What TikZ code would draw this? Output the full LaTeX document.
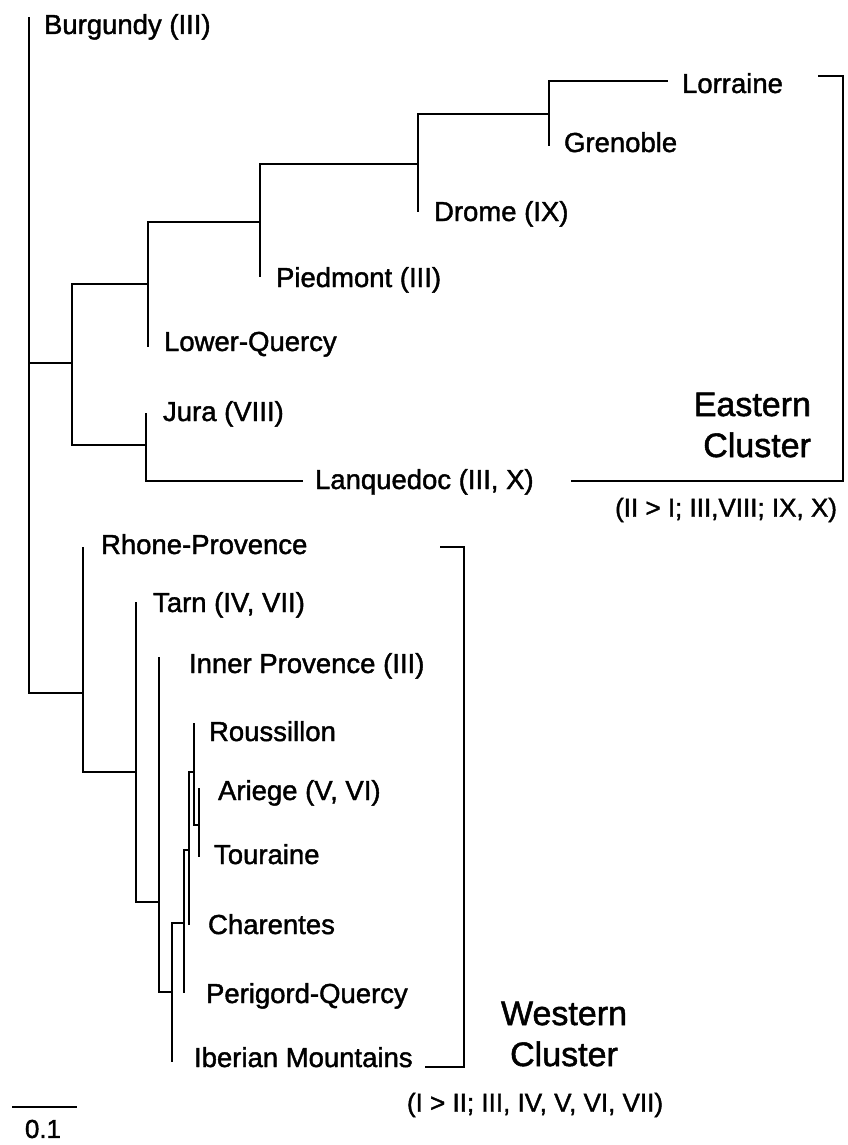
\documentclass[tikz,border=0pt]{standalone}
\usepackage{fontspec}
\setmainfont{Liberation Sans}[FakeBold=1.5]
\tikzset{
  leaf/.style={anchor=base west, inner sep=0pt, font=\fontsize{27.5}{30}\selectfont},
  clusterlbl/.style={inner sep=0pt, font=\fontsize{34}{41}\selectfont},
  note/.style={inner sep=0pt, font=\fontsize{26}{30}\selectfont}
}
\begin{document}
\begin{tikzpicture}[x=1pt, y=-1pt, line width=2.1pt]
	\useasboundingbox (0,0) rectangle (848,1145);

	% Branch points of the tree
	\coordinate (root) at (29,363);
	\coordinate (e0) at (72,363);
	\coordinate (e1) at (148,284);
	\coordinate (e2) at (260,222);
	\coordinate (e3) at (418,164);
	\coordinate (e4) at (549,114);
	\coordinate (e5) at (146,445);
	\coordinate (w0) at (83,693);
	\coordinate (w1) at (136,772);
	\coordinate (w2) at (159,902);
	\coordinate (w3) at (172,992);
	\coordinate (w4) at (184,923);
	\coordinate (w5) at (189,850);
	\coordinate (w6) at (194,772);
	\coordinate (w7) at (199,825);

	% Tips of the branches
	\coordinate (burgundy) at (29,17);
	\coordinate (lorraine) at (668,81);
	\coordinate (grenoble) at (549,146);
	\coordinate (drome) at (418,212);
	\coordinate (piedmont) at (260,277);
	\coordinate (lowerquercy) at (148,347);
	\coordinate (jura) at (146,413);
	\coordinate (lanquedoc) at (303,481);
	\coordinate (rhone) at (83,547);
	\coordinate (tarn) at (136,602);
	\coordinate (inner) at (159,657);
	\coordinate (roussillon) at (194,723);
	\coordinate (ariege) at (199,788);
	\coordinate (touraine) at (199,857);
	\coordinate (charentes) at (189,925);
	\coordinate (perigord) at (184,993);
	\coordinate (iberian) at (172,1062);

	% Draw the tree
	\draw (root) |- (burgundy) (root) -- (e0) (root) |- (w0);
	\draw (e0) |- (e1) (e0) |- (e5);
	\draw (e1) |- (e2) (e1) |- (lowerquercy);
	\draw (e2) |- (e3) (e2) |- (piedmont);
	\draw (e3) |- (e4) (e3) |- (drome);
	\draw (e4) |- (lorraine) (e4) |- (grenoble);
	\draw (e5) |- (jura) (e5) |- (lanquedoc);
	\draw (w0) |- (rhone) (w0) |- (w1);
	\draw (w1) |- (tarn) (w1) |- (w2);
	\draw (w2) |- (inner) (w2) |- (w3);
	\draw [line width=1.7pt] (w3) |- (w4) (w3) |- (iberian);
	\draw [line width=1.7pt] (w4) |- (w5) (w4) |- (perigord);
	\draw [line width=1.7pt] (w5) |- (w6) (w5) |- (charentes);
	\draw [line width=1.7pt] (w6) |- (roussillon) (w6) |- (w7);
	\draw [line width=1.7pt] (w7) |- (ariege) (w7) |- (touraine);

	% Then add the region labels
	\node (burgundylbl) at (43,34) [leaf] {Burgundy (III)};
	\node (lorrainelbl) at (681,93) [leaf] {Lorraine};
	\node (grenoblelbl) at (563,152) [leaf] {Grenoble};
	\node (dromelbl) at (433,221) [leaf] {Drome (IX)};
	\node (piedmontlbl) at (275,287) [leaf] {Piedmont (III)};
	\node (lowerquercylbl) at (163,351) [leaf] {Lower-Quercy};
	\node (juralbl) at (162,421) [leaf] {Jura (VIII)};
	\node (lanquedoclbl) at (314,489) [leaf] {Lanquedoc (III, X)};
	\node (rhonelbl) at (100,554) [leaf] {Rhone-Provence};
	\node (tarnlbl) at (152,612) [leaf] {Tarn (IV, VII)};
	\node (innerlbl) at (188,673) [leaf] {Inner Provence (III)};
	\node (roussillonlbl) at (208,741) [leaf] {Roussillon};
	\node (ariegelbl) at (217,800) [leaf] {Ariege (V, VI)};
	\node (tourainelbl) at (213,864) [leaf] {Touraine};
	\node (charenteslbl) at (207,934) [leaf] {Charentes};
	\node (perigordlbl) at (205,1003) [leaf] {Perigord-Quercy};
	\node (iberianlbl) at (193,1067) [leaf] {Iberian Mountains};

	% Now the two cluster brackets
	\coordinate (eb1) at (818,76);
	\coordinate (eb2) at (843,481);
	\coordinate (eb3) at (571,481);
	\draw (eb1) -| (eb2) -- (eb3);
	\coordinate (wb1) at (440,547);
	\coordinate (wb2) at (464,1067);
	\coordinate (wb3) at (425,1067);
	\draw (wb1) -| (wb2) -- (wb3);

	\node (eastlbl) at (812,425) [clusterlbl, anchor=east, align=right] {Eastern\\Cluster};
	\node (eastnote) at (726,510) [note] {(II > I; III,VIII; IX, X)};
	\node (westlbl) at (564,1034) [clusterlbl, align=center] {Western\\Cluster};
	\node (westnote) at (535,1105) [note] {(I > II; III, IV, V, VI, VII)};

	% Scale bar
	\coordinate (sb1) at (12,1107);
	\coordinate (sb2) at (77,1107);
	\draw (sb1) -- (sb2);
	\node (sblbl) at (43,1129) [note] {0.1};
\end{tikzpicture}
\end{document}
